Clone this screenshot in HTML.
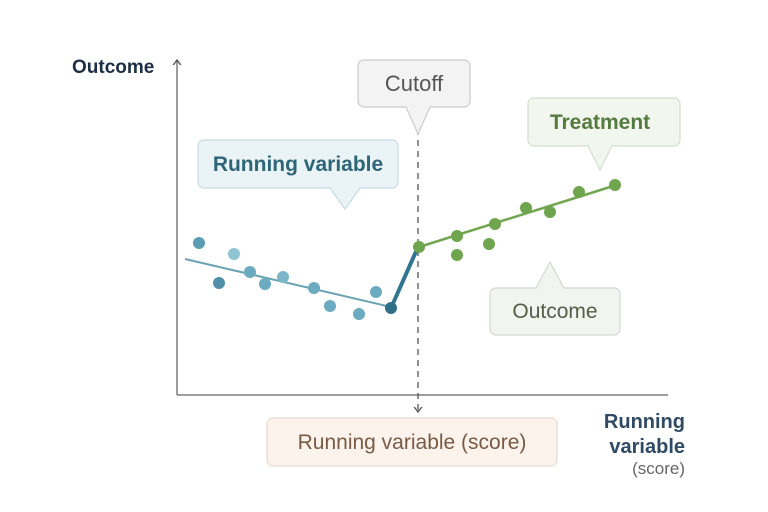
<!DOCTYPE html>
<html><head><style>body{margin:0;background:#fff}svg{display:block}text{font-family:"Liberation Sans",sans-serif}</style></head><body>
<svg width="768" height="512" viewBox="0 0 768 512">
<defs><marker id="a" markerWidth="8" markerHeight="8" refX="4" refY="4" orient="auto"><path d="M0,1 L4,4 L0,7" fill="none" stroke="#555" stroke-width="1"/></marker></defs>
<line x1="177" y1="395" x2="177" y2="60" stroke="#666" stroke-width="1.3" marker-end="url(#a)"/>
<line x1="177" y1="395" x2="668" y2="395" stroke="#666" stroke-width="1.3"/>
<line x1="418" y1="118" x2="418" y2="412" stroke="#555" stroke-width="1.3" stroke-dasharray="6,5" marker-end="url(#a)"/>
<text x="72" y="73" font-size="19" font-weight="bold" fill="#1c2e45">Outcome</text>
<g text-anchor="end" font-weight="bold" fill="#2f4a63" font-size="20"><text x="685" y="428">Running</text><text x="685" y="453">variable</text></g>
<text x="685" y="474" text-anchor="end" font-size="17" fill="#666">(score)</text>
<line x1="185" y1="259" x2="391" y2="307" stroke="#6aa3b3" stroke-width="2"/>
<g fill="#6aabbf">
<circle cx="199" cy="243" r="6" fill="#5a9db5"/><circle cx="219" cy="283" r="6" fill="#4f90a8"/><circle cx="234" cy="254" r="6" fill="#8ec3d1"/><circle cx="250" cy="272" r="6"/><circle cx="265" cy="284" r="6"/><circle cx="283" cy="277" r="6" fill="#7bb7c8"/><circle cx="314" cy="288" r="6"/><circle cx="330" cy="306" r="6"/><circle cx="359" cy="314" r="6"/><circle cx="376" cy="292" r="6"/>
</g>
<line x1="391" y1="308" x2="418" y2="247" stroke="#2f7590" stroke-width="4"/>
<circle cx="391" cy="308" r="6" fill="#2f6f87"/>
<line x1="419" y1="247" x2="610" y2="187" stroke="#72a651" stroke-width="2.5"/>
<g fill="#6fa54f">
<circle cx="419" cy="247" r="6"/><circle cx="457" cy="236" r="6"/><circle cx="457" cy="255" r="6"/><circle cx="495" cy="224" r="6"/><circle cx="489" cy="244" r="6"/><circle cx="526" cy="208" r="6"/><circle cx="550" cy="212" r="6"/><circle cx="579" cy="192" r="6"/><circle cx="615" cy="185" r="6"/>
</g>
<g stroke-width="1.2">
<path d="M364,60 H464 a6,6 0 0 1 6,6 V101 a6,6 0 0 1 -6,6 H430 L418,134 L406,107 H364 a6,6 0 0 1 -6,-6 V66 a6,6 0 0 1 6,-6Z" fill="#f3f3f3" stroke="#ccc"/>
<path d="M204,140 H392 a6,6 0 0 1 6,6 V182 a6,6 0 0 1 -6,6 H360 L345,209 L330,188 H204 a6,6 0 0 1 -6,-6 V146 a6,6 0 0 1 6,-6Z" fill="#eaf4f7" stroke="#c5dbe2"/>
<path d="M534,98 H674 a6,6 0 0 1 6,6 V140 a6,6 0 0 1 -6,6 H612 L600,170 L588,146 H534 a6,6 0 0 1 -6,-6 V104 a6,6 0 0 1 6,-6Z" fill="#f1f6ee" stroke="#d3dfcc"/>
<path d="M496,288 H536 L550,262 L564,288 H614 a6,6 0 0 1 6,6 V329 a6,6 0 0 1 -6,6 H496 a6,6 0 0 1 -6,-6 V294 a6,6 0 0 1 6,-6Z" fill="#f2f4ef" stroke="#d4d8cf"/>
<rect x="267" y="418" width="290" height="48" rx="6" fill="#fbf3ec" stroke="#e8dacd"/>
</g>
<text x="414" y="91" text-anchor="middle" font-size="22" fill="#555">Cutoff</text>
<text x="298" y="171" text-anchor="middle" font-size="21" font-weight="bold" fill="#2e6677">Running variable</text>
<text x="600" y="129" text-anchor="middle" font-size="21" font-weight="bold" fill="#557a3d">Treatment</text>
<text x="555" y="318" text-anchor="middle" font-size="21" fill="#555e48">Outcome</text>
<text x="412" y="449" text-anchor="middle" font-size="21" fill="#7a5a43">Running variable (score)</text>
</svg>
</body></html>
